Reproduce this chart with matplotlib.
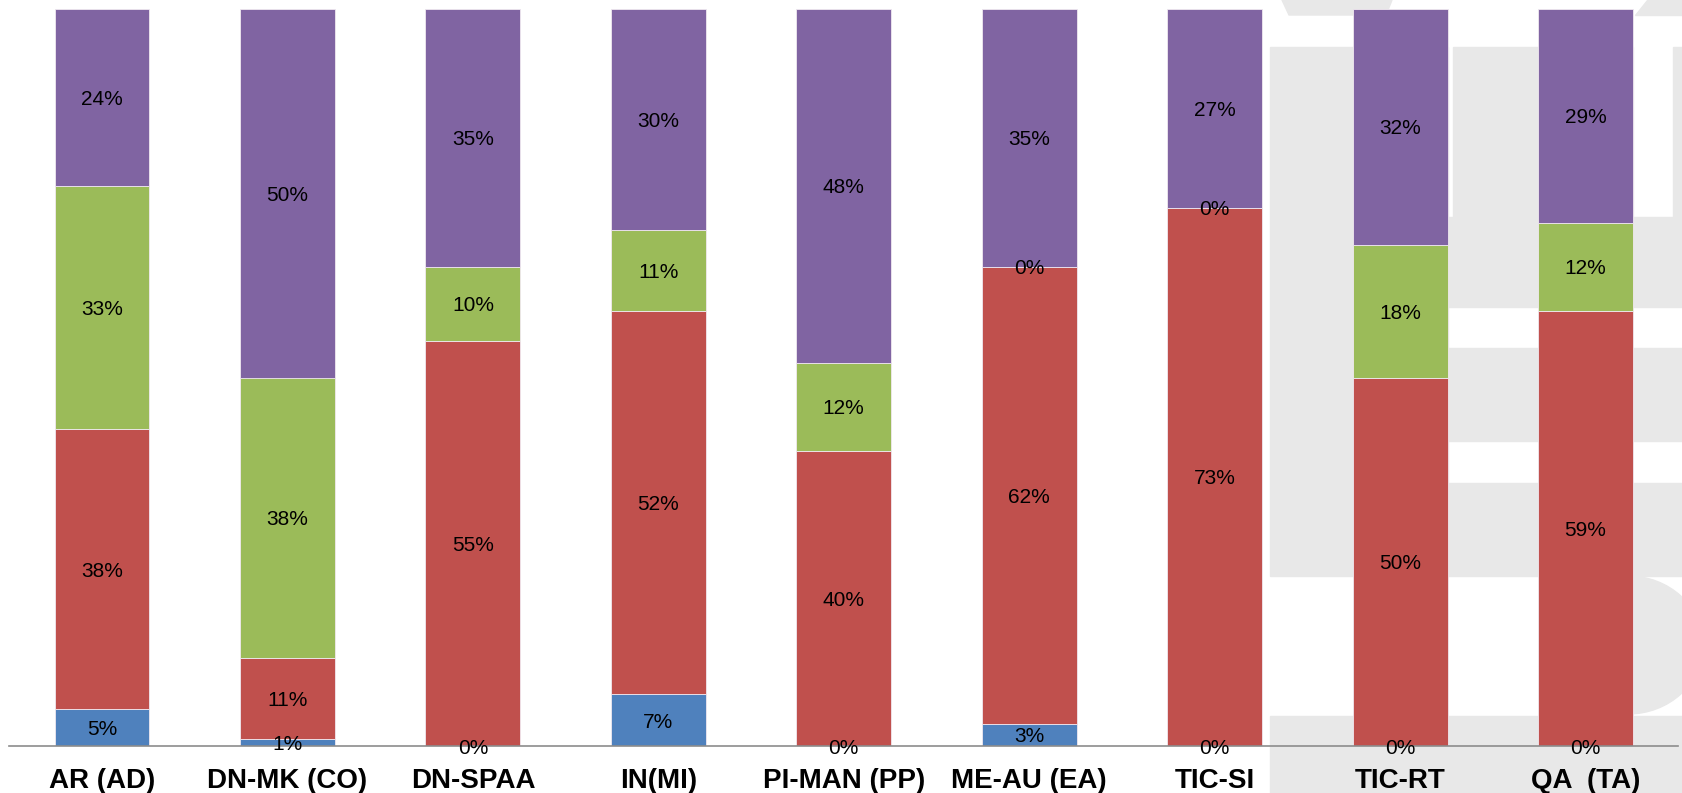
import numpy as np
import matplotlib.pyplot as plt
from matplotlib.patches import Rectangle, Polygon, Ellipse

categories = ['AR (AD)', 'DN-MK (CO)', 'DN-SPAA', 'IN(MI)', 'PI-MAN (PP)',
              'ME-AU (EA)', 'TIC-SI', 'TIC-RT', 'QA  (TA)']
blue = [5, 1, 0, 7, 0, 3, 0, 0, 0]
red = [38, 11, 55, 52, 40, 62, 73, 50, 59]
green = [33, 38, 10, 11, 12, 0, 0, 18, 12]
purple = [24, 50, 35, 30, 48, 35, 27, 32, 29]

series = [blue, red, green, purple]
colors = ['#4F81BD', '#C0504D', '#9BBB59', '#8064A2']

W, H = 1683, 793
fig = plt.figure(figsize=(W / 100, H / 100), dpi=100)
plt.rcParams['font.family'] = ['Liberation Sans', 'DejaVu Sans']

# light grey watermark logo behind the chart (pixel coords, origin top-left)
def px(x, y):
    return (x / W, 1 - y / H)

wm_color = '#E8E8E8'
boxes = [(1270, 47, 1448, 576), (1453, 47, 1633, 217), (1673, 47, 1683, 217),
         (1448, 217, 1683, 307), (1448, 348, 1683, 441), (1448, 483, 1683, 576),
         (1270, 716, 1683, 793)]
for x0, y0, x1, y1 in boxes:
    fig.add_artist(Rectangle(px(x0, y1), (x1 - x0) / W, (y1 - y0) / H,
                             transform=fig.transFigure, color=wm_color, zorder=-5))
for pts in [[(1282, 0), (1392, 0), (1386, 15), (1289, 15)],
            [(1647, 0), (1683, 0), (1683, 15), (1635, 15)]]:
    fig.add_artist(Polygon([px(*p) for p in pts], closed=True,
                           transform=fig.transFigure, color=wm_color, zorder=-5))
fig.add_artist(Ellipse(px(1628, 645), 150 / W, 138 / H,
                       transform=fig.transFigure, color=wm_color, zorder=-5))

ax = fig.add_axes([9.3 / W, (H - 746) / H, (1678.2 - 9.3) / W, (746 - 9) / H])
ax.set_facecolor('none')

x = np.arange(len(categories))
bottom = np.zeros(len(categories))
fs = 15
for vals, c in zip(series, colors):
    vals = np.array(vals, dtype=float)
    ax.bar(x, vals, 0.512, bottom=bottom, color=c, edgecolor='#f0e8f0', linewidth=0.6)
    for xi, b, v in zip(x, bottom, vals):
        ax.annotate(f'{int(v)}%', xy=(xi, b + v / 2), xytext=(0, -0.36 * fs),
                    textcoords='offset points', ha='center', va='baseline',
                    fontsize=fs, color='black')
    bottom += vals

ax.set_xlim(-0.5, len(categories) - 0.5)
ax.set_ylim(0, 100)
ax.set_yticks([])
for s in ['top', 'left', 'right']:
    ax.spines[s].set_visible(False)
ax.spines['bottom'].set_color('#8c8c8c')
ax.spines['bottom'].set_linewidth(1.2)
ax.set_xticks(x)
ax.set_xticklabels(categories, fontsize=20, fontweight='bold')
ax.tick_params(axis='x', length=0, pad=16)

fig.savefig('out.png', dpi=100)
